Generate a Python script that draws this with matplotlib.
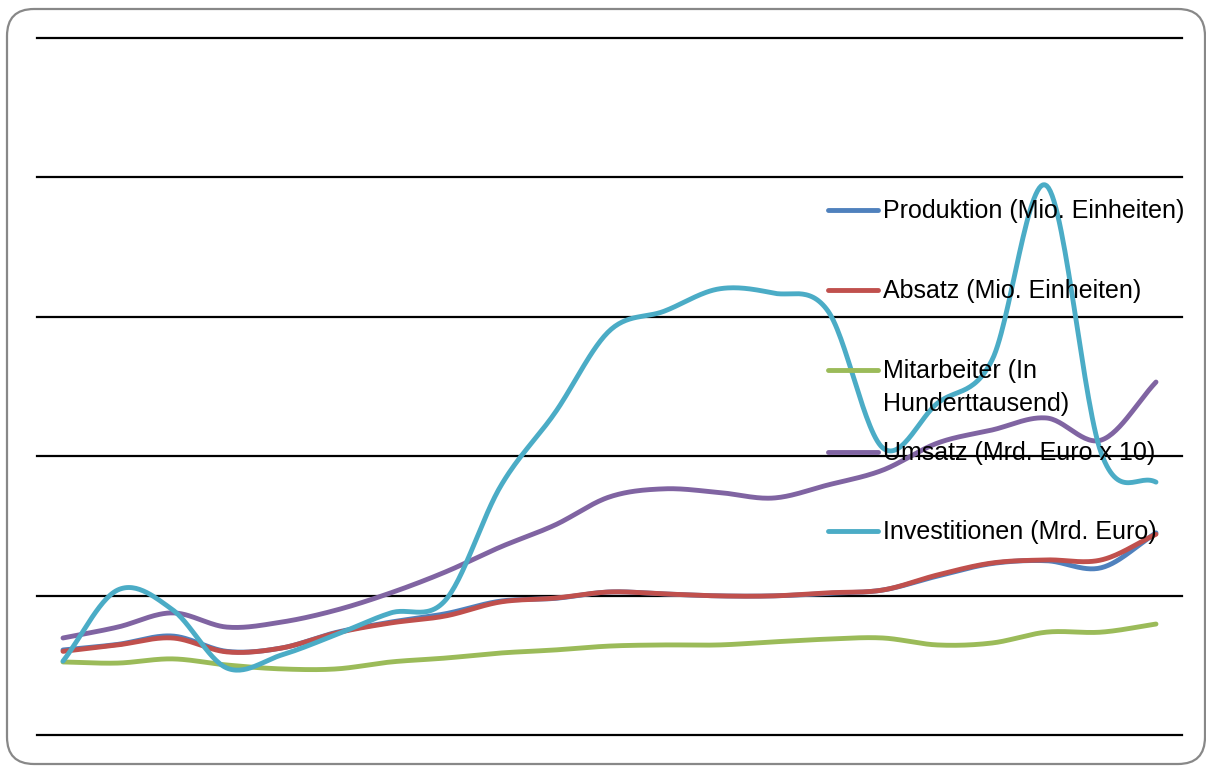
import numpy as np
import matplotlib.pyplot as plt
from matplotlib.lines import Line2D
from matplotlib.patches import FancyBboxPatch

# values (21 categories, no axis labels shown)
produktion = [30.5, 32.5, 35.5, 30.0, 31.2, 36.8, 40.5, 43.5, 48.0, 49.0, 51.3,
              50.6, 49.9, 49.9, 50.8, 52.0, 57.0, 61.5, 62.5, 60.0, 72.5]
absatz = [30.0, 32.3, 34.8, 29.8, 31.2, 36.6, 40.2, 42.7, 47.7, 49.1, 51.3,
          50.6, 49.9, 49.9, 51.0, 52.0, 57.4, 61.7, 62.8, 62.8, 72.0]
mitarbeiter = [26.2, 25.8, 27.3, 25.1, 23.7, 23.7, 26.2, 27.6, 29.4, 30.5, 31.9,
               32.3, 32.3, 33.4, 34.4, 34.8, 32.3, 33.0, 36.9, 36.9, 39.8]
umsatz = [34.8, 38.7, 43.8, 38.7, 40.5, 44.8, 51.0, 58.5, 67.4, 75.3, 85.4,
          88.3, 87.0, 85.0, 89.7, 95.0, 104.7, 109.4, 113.7, 105.8, 126.6]
investitionen = [26.5, 52.0, 45.0, 24.0, 28.7, 36.0, 43.8, 48.4, 89.0, 115.5, 145.0,
                 152.0, 160.0, 158.5, 152.0, 103.0, 119.0, 134.5, 197.0, 101.0, 90.7]

series = [
    ('Produktion (Mio. Einheiten)', produktion, '#4F81BD'),
    ('Absatz (Mio. Einheiten)', absatz, '#C0504D'),
    ('Mitarbeiter (In\nHunderttausend)', mitarbeiter, '#9BBB59'),
    ('Umsatz (Mrd. Euro x 10)', umsatz, '#8064A2'),
    ('Investitionen (Mrd. Euro)', investitionen, '#4BACC6'),
]


def smooth(y, n=30):
    # catmull-rom spline through the points, like excel's smoothed lines
    y = np.asarray(y, dtype=float)
    x = np.arange(len(y), dtype=float)
    px = np.concatenate([[2 * x[0] - x[1]], x, [2 * x[-1] - x[-2]]])
    py = np.concatenate([[2 * y[0] - y[1]], y, [2 * y[-1] - y[-2]]])
    xs, ys = [], []
    t = np.linspace(0, 1, n, endpoint=False)
    for i in range(1, len(px) - 2):
        for p, out in ((px, xs), (py, ys)):
            p0, p1, p2, p3 = p[i - 1], p[i], p[i + 1], p[i + 2]
            out.append(0.5 * (2 * p1 + (-p0 + p2) * t
                              + (2 * p0 - 5 * p1 + 4 * p2 - p3) * t**2
                              + (-p0 + 3 * p1 - 3 * p2 + p3) * t**3))
    xs.append([x[-1]])
    ys.append([y[-1]])
    return np.concatenate(xs), np.concatenate(ys)


W, H = 1206, 767
fig = plt.figure(figsize=(W / 100, H / 100), dpi=100)
ax = fig.add_axes([37 / W, 1 - 735 / H, (1182 - 37) / W, (735 - 38) / H])

for label, vals, color in series:
    xs, ys = smooth(vals)
    ax.plot(xs, ys, color=color, lw=3.5, solid_capstyle='round', zorder=3)

ax.set_xlim(-0.476, len(produktion) - 1 + 0.476)
ax.set_ylim(0, 250)
ax.set_yticks(np.arange(0, 251, 50))
ax.yaxis.grid(True, color='black', lw=1.6)
for gl in ax.get_ygridlines():
    gl.set_clip_on(False)
ax.set_axisbelow(True)
ax.tick_params(left=False, bottom=False, labelleft=False, labelbottom=False)
for s in ax.spines.values():
    s.set_visible(False)

# legend drawn by hand, no frame
legend_y = [210, 290, 370, 452, 531]
for (label, vals, color), ly in zip(series, legend_y):
    fy = 1 - ly / H
    fig.add_artist(Line2D([828 / W, 878 / W], [fy, fy], color=color, lw=3.5,
                          solid_capstyle='round', zorder=2))
    for i, part in enumerate(label.split('\n')):
        fig.text(883 / W, 1 - (ly + 1 + 33 * i) / H, part, fontsize=18,
                 family='Liberation Sans', va='center', ha='left', zorder=2)

border = FancyBboxPatch((0.07, 0.03), 11.98, 7.55,
                        boxstyle='round,pad=0,rounding_size=0.27',
                        transform=fig.dpi_scale_trans, fill=False,
                        edgecolor='#888888', lw=1.6)
fig.add_artist(border)

fig.savefig('out.png', dpi=100)
